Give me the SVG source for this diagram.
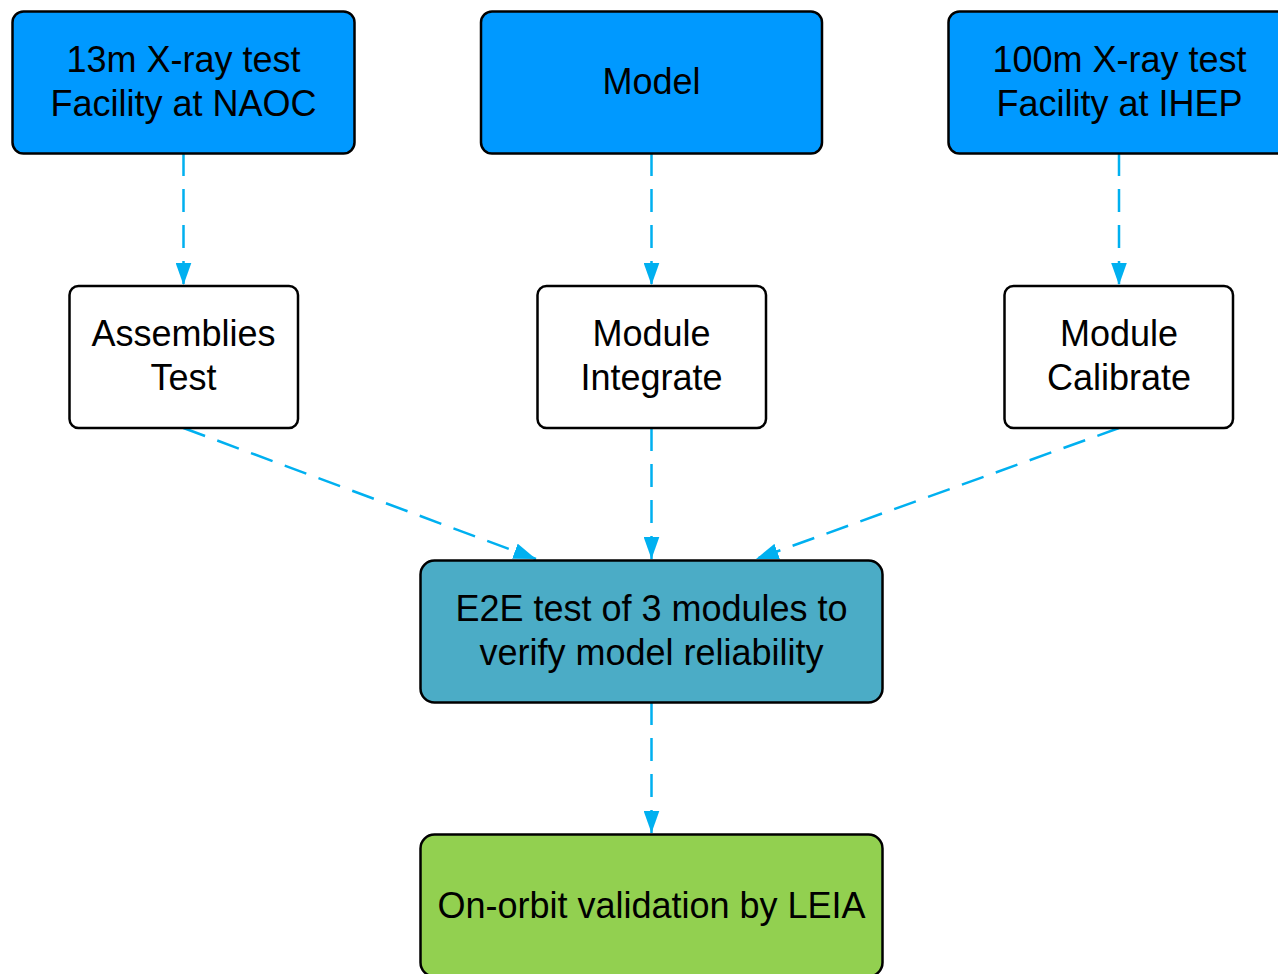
<svg xmlns="http://www.w3.org/2000/svg" width="1278" height="974" viewBox="0 0 1278 974">
  <style>
    .box { stroke: #000000; stroke-width: 2.5; }
    .src { fill: #0099FF; }
    .step { fill: #FFFFFF; }
    .e2e { fill: #4BACC6; }
    .final { fill: #92D050; }
    .label { font-family: "Liberation Sans", Arial, sans-serif; font-size: 36px; fill: #000000; text-anchor: middle; }
    .edge { fill: none; stroke: #00B0F0; stroke-width: 2.5; stroke-dasharray: 23 13; }
  </style>
  <defs>
    <marker id="arrow" viewBox="0 0 10 10" preserveAspectRatio="none" refX="10" refY="5" markerWidth="9" markerHeight="6.4" markerUnits="strokeWidth" orient="auto">
      <path d="M0,0 L10,5 L0,10 Z" fill="#00B0F0"/>
    </marker>
  </defs>

  <rect width="1278" height="974" fill="#FFFFFF"/>

  <g id="connectors">
    <line class="edge" x1="183.5" y1="153" x2="183.5" y2="285" marker-end="url(#arrow)"/>
    <line class="edge" x1="651.5" y1="153" x2="651.5" y2="285" marker-end="url(#arrow)"/>
    <line class="edge" x1="1119" y1="153" x2="1119" y2="285" marker-end="url(#arrow)"/>
    <line class="edge" x1="183.5" y1="428" x2="536" y2="559" marker-end="url(#arrow)"/>
    <line class="edge" x1="651.5" y1="428" x2="651.5" y2="559" marker-end="url(#arrow)"/>
    <line class="edge" x1="1119" y1="428" x2="756" y2="559" marker-end="url(#arrow)"/>
    <line class="edge" x1="651.5" y1="702" x2="651.5" y2="833" marker-end="url(#arrow)"/>
  </g>

  <g id="naoc">
    <rect class="box src" x="12.5" y="11.5" width="342" height="142" rx="11"/>
    <text class="label" x="183.5" y="72">13m X-ray test</text>
    <text class="label" x="183.5" y="116">Facility at NAOC</text>
  </g>

  <g id="model">
    <rect class="box src" x="481" y="11.5" width="341" height="142" rx="11"/>
    <text class="label" x="651.5" y="94">Model</text>
  </g>

  <g id="ihep">
    <rect class="box src" x="948.5" y="11.5" width="342" height="142" rx="11"/>
    <text class="label" x="1119.5" y="72">100m X-ray test</text>
    <text class="label" x="1119.5" y="116">Facility at IHEP</text>
  </g>

  <g id="assemblies">
    <rect class="box step" x="69.5" y="286" width="228.5" height="142" rx="9"/>
    <text class="label" x="183.5" y="346">Assemblies</text>
    <text class="label" x="183.5" y="390">Test</text>
  </g>

  <g id="integrate">
    <rect class="box step" x="537.5" y="286" width="228.5" height="142" rx="9"/>
    <text class="label" x="651.5" y="346">Module</text>
    <text class="label" x="651.5" y="390">Integrate</text>
  </g>

  <g id="calibrate">
    <rect class="box step" x="1004.5" y="286" width="228.5" height="142" rx="9"/>
    <text class="label" x="1119" y="346">Module</text>
    <text class="label" x="1119" y="390">Calibrate</text>
  </g>

  <g id="e2e">
    <rect class="box e2e" x="420.5" y="560.5" width="462" height="142" rx="14"/>
    <text class="label" x="651.5" y="621">E2E test of 3 modules to</text>
    <text class="label" x="651.5" y="665">verify model reliability</text>
  </g>

  <g id="leia">
    <rect class="box final" x="420.5" y="834.5" width="462" height="142" rx="14"/>
    <text class="label" x="651.5" y="918">On-orbit validation by LEIA</text>
  </g>
</svg>
